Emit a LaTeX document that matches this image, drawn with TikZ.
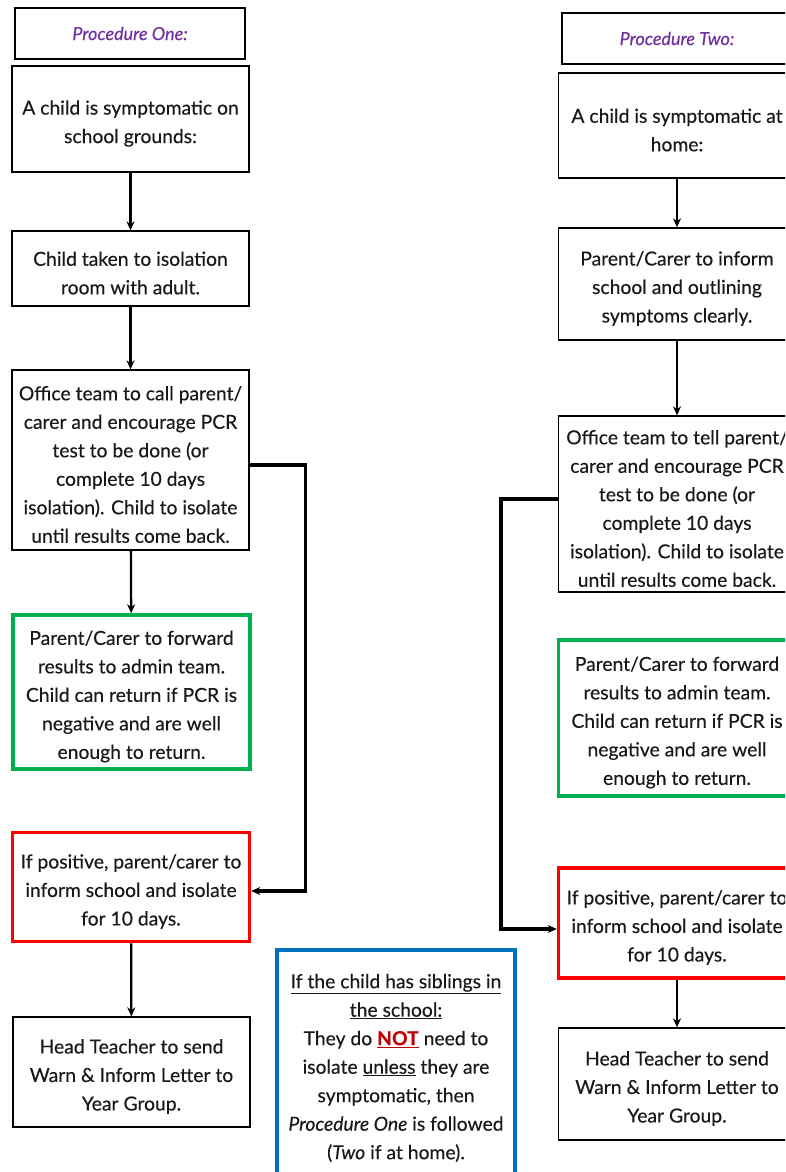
\documentclass[tikz,border=0pt]{standalone}
\usepackage{fontspec}
\setmainfont{Lato}[FakeBold=0.3]
\usetikzlibrary{arrows.meta}
\definecolor{ttlpurple}{RGB}{112,48,160}
\definecolor{boxgreen}{RGB}{0,176,80}
\definecolor{boxred}{RGB}{255,0,0}
\definecolor{boxblue}{RGB}{0,112,192}
\definecolor{notred}{RGB}{192,0,0}
\newcommand{\bfnt}{\fontsize{19.3}{28.5}\selectfont}
\tikzset{
  plainbox/.style={draw=black, line width=1.3pt, minimum width=237pt, inner sep=0pt},
  txt/.style={align=center, inner sep=0pt, font=\bfnt, text=black!90, yshift=-4.5pt},
  titlebox/.style={draw=black, line width=1.3pt, minimum width=230pt, minimum height=51pt, align=center, inner sep=0pt, font=\fontsize{18}{20}\selectfont\itshape, text=ttlpurple},
  greenbox/.style={plainbox, draw=boxgreen, line width=3.5pt},
  redbox/.style={plainbox, draw=boxred, line width=3.5pt},
  bluebox/.style={plainbox, draw=boxblue, line width=3.5pt},
  arr/.style={line width=2.3pt, -{Stealth[length=9pt,width=8pt]}},
  loop/.style={line width=3.5pt, -{Stealth[length=9pt,width=8pt]}}
}
\begin{document}
\begin{tikzpicture}[x=1pt,y=-1pt]
\clip (0,0) rectangle (785,1172);
\fill[white] (0,0) rectangle (785,1172);
% Procedure One
\node[titlebox] (t1) at (130,33.5) {Procedure One:};
\node[plainbox, minimum height=106pt, label={[txt]center:{A child is symptomatic on\\school grounds:}}] (a1) at (130.5,119) {};
\node[plainbox, minimum height=75pt, label={[txt]center:{Child taken to isolation\\room with adult.}}] (a2) at (130.5,268.5) {};
\node[plainbox, minimum height=180pt, label={[txt]center:{Office team to call parent/\\carer and encourage PCR\\test to be done (or\\complete 10 days\\isolation). Child to isolate\\until results come back.}}] (a3) at (130.5,460) {};
\node[greenbox, minimum height=154pt, label={[txt]center:{Parent/Carer to forward\\results to admin team.\\Child can return if PCR is\\negative and are well\\enough to return.}}] (a4) at (131.5,692) {};
\node[redbox, minimum height=109pt, label={[txt]center:{If positive, parent/carer to\\inform school and isolate\\for 10 days.}}] (a5) at (131,887) {};
\node[plainbox, minimum height=110pt, label={[txt]center:{Head Teacher to send\\Warn \& Inform Letter to\\Year Group.}}] (a6) at (131.5,1072) {};
% Procedure Two
\node[titlebox] (t2) at (677,38.5) {Procedure Two:};
\node[plainbox, minimum height=105pt, label={[txt]center:{A child is symptomatic at\\home:}}] (b1) at (677,125.5) {};
\node[plainbox, minimum height=112pt, label={[txt]center:{Parent/Carer to inform\\school and outlining\\symptoms clearly.}}] (b2) at (677,284) {};
\node[plainbox, minimum height=176pt, label={[txt]center:{Office team to tell parent/\\carer and encourage PCR\\test to be done (or\\complete 10 days\\isolation). Child to isolate\\until results come back.}}] (b3) at (677,504) {};
\node[greenbox, minimum height=156pt, label={[txt]center:{Parent/Carer to forward\\results to admin team.\\Child can return if PCR is\\negative and are well\\enough to return.}}] (b4) at (677,718) {};
\node[redbox, minimum height=110pt, label={[txt]center:{If positive, parent/carer to\\inform school and isolate\\for 10 days.}}] (b5) at (677,923) {};
\node[plainbox, minimum height=112pt, label={[txt]center:{Head Teacher to send\\Warn \& Inform Letter to\\Year Group.}}] (b6) at (677,1084) {};
% siblings note
\node[bluebox, minimum width=238pt, minimum height=240pt, label={[txt, yshift=6.5pt]center:{\underline{If the child has siblings in}\\\underline{the school:}\\They do \textcolor{notred}{\textbf{\underline{NOT}}} need to\\isolate \underline{unless} they are\\symptomatic, then\\\textit{Procedure One} is followed\\(\textit{Two} if at home).}}] (note) at (396,1070) {};
% connectors
\draw[arr] (a1) -- (a2);
\draw[arr] (a2) -- (a3);
\draw[arr] (a3) -- (a4);
\draw[arr] (a5) -- (a6);
\draw[loop] ([yshift=-5pt]a3.east) -- ++(56,0) |- ([yshift=-4pt]a5.east);
\draw[arr] (b1) -- (b2);
\draw[arr] (b2) -- (b3);
\draw[arr] (b5) -- (b6);
\draw[loop] ([yshift=5pt]b3.west) -- ++(-57,0) |- ([yshift=-6pt]b5.west);
\end{tikzpicture}
\end{document}
